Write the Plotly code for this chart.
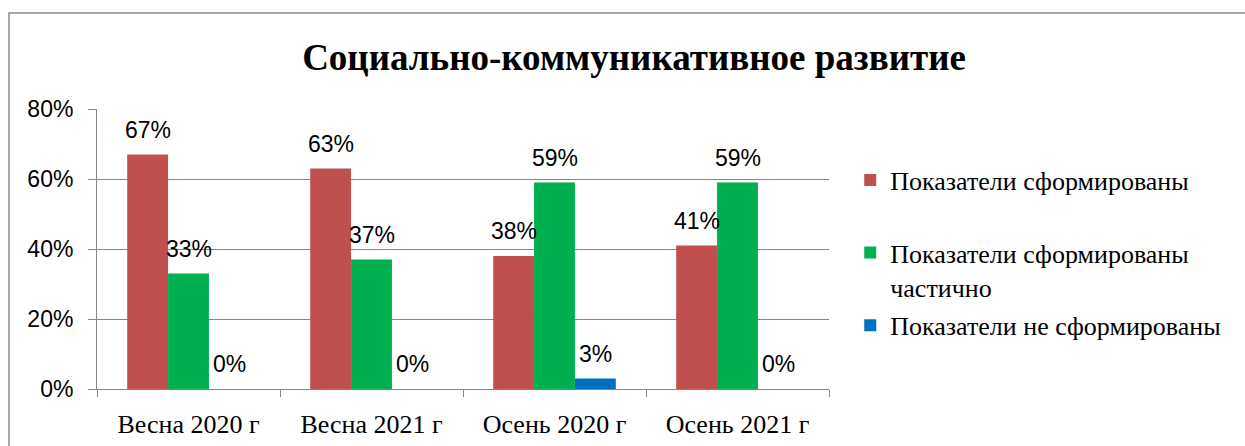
import plotly.graph_objects as go

categories = ["Весна 2020 г", "Весна 2021 г", "Осень 2020 г", "Осень 2021 г"]
series_names = ["Показатели сформированы", "Показатели сформированы<br>частично", "Показатели не сформированы"]
formed = [0.67, 0.63, 0.38, 0.41]
partly = [0.33, 0.37, 0.59, 0.59]
not_formed = [0.00, 0.00, 0.03, 0.00]
colors = ["#C0504D", "#00B050", "#0070C0"]
y_ticks = [0, 0.2, 0.4, 0.6, 0.8]

W, H = 1245, 446
ML, MR, MT, MB = 97, 416, 109, 57
plot_w = W - ML - MR
plot_h = H - MT - MB
bargap = 0.33
bar_w = plot_w / len(categories) * (1 - bargap) / 3

serif = "Liberation Serif"
sans = "Liberation Sans"

fig = go.Figure()
all_series = [formed, partly, not_formed]
for i, (name, vals, col) in enumerate(zip(series_names, all_series, colors)):
    label = name + ("<br> " if i == 0 else "")
    fig.add_trace(go.Bar(
        x=categories, y=vals, name=label, marker_color=col,
        marker_line_width=0, legendgroup=str(i),
    ))
    for c, v in zip(categories, vals):
        fig.add_annotation(
            x=c, y=v, text=f"{round(v*100)}%", showarrow=False,
            xshift=(i - 1) * bar_w, yshift=25, yanchor="middle",
            font=dict(family=sans, size=23, color="#000"),
        )

# outer chart border (top and left edges visible)
fig.add_shape(type="rect", xref="paper", yref="paper",
              x0=(9 - ML) / plot_w, x1=(W + 10 - ML) / plot_w,
              y0=-(MB + 10) / plot_h, y1=1 + (MT - 13) / plot_h,
              line=dict(color="#8a8a8a", width=1.5), layer="below")

fig.update_layout(
    width=W, height=H,
    margin=dict(l=ML, r=MR, t=MT, b=MB, autoexpand=False),
    paper_bgcolor="white", plot_bgcolor="white",
    barmode="group", bargap=bargap, bargroupgap=0,
    title=dict(text="<b>Социально-коммуникативное развитие</b>",
               x=634 / W, xanchor="center", y=1 - 57 / H, yanchor="middle",
               font=dict(family=serif, size=37, color="#000")),
    legend=dict(x=1.029, y=0.83, xanchor="left", yanchor="top",
                font=dict(family=serif, size=26, color="#000"),
                tracegroupgap=2, valign="top", bgcolor="rgba(0,0,0,0)"),
    showlegend=True,
)
fig.update_yaxes(range=[0, 0.8], tickvals=y_ticks, tickformat=".0%",
                 showgrid=True, gridcolor="#868686", gridwidth=1,
                 showline=True, linecolor="#868686", linewidth=1,
                 ticks="outside", ticklen=8, tickcolor="#868686",
                 ticklabelstandoff=10, automargin=False,
                 tickfont=dict(family=sans, size=23, color="#000"), zeroline=False)
fig.update_xaxes(showline=True, linecolor="#868686", linewidth=1,
                 ticks="outside", ticklen=7, tickcolor="#868686", tickson="boundaries",
                 ticklabelstandoff=12, automargin=False,
                 tickfont=dict(family=serif, size=26, color="#000"))

fig.write_html("out.html", config={"displayModeBar": False},
               post_script="document.body.style.margin='0';")
